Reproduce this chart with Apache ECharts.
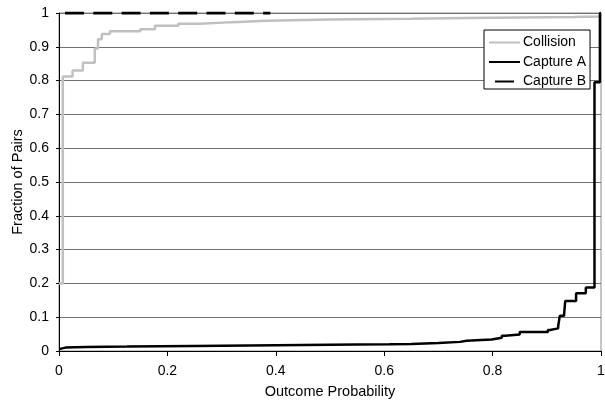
<!DOCTYPE html>
<html>
<head>
<meta charset="utf-8">
<script src="https://cdn.jsdelivr.net/npm/echarts@6/dist/echarts.min.js"></script>
<style>
html,body{margin:0;padding:0;background:#fff;}
#chart{width:605px;height:405px;}
</style>
</head>
<body>
<div id="chart"></div>
<script>
// Data (x = outcome probability, y = fraction of pairs)
const seriesNames = ['Collision', 'Capture A', 'Capture B'];
const xTicks = [0, 0.2, 0.4, 0.6, 0.8, 1];
const yTicks = [0, 0.1, 0.2, 0.3, 0.4, 0.5, 0.6, 0.7, 0.8, 0.9, 1];

const collisionX = [0, 0.007, 0.025, 0.044, 0.066, 0.072, 0.079, 0.094, 0.15, 0.177, 0.22, 0.26, 0.32, 0.383, 0.5, 0.65, 0.75, 0.85, 0.95, 0.998, 1];
const collisionY = [0.2, 0.812, 0.83, 0.853, 0.895, 0.922, 0.938, 0.946, 0.952, 0.962, 0.968, 0.973, 0.977, 0.981, 0.983, 0.985, 0.987, 0.988, 0.99, 1, 1];

const captureAX = [0, 0.004, 0.012, 0.05, 0.125, 0.25, 0.4, 0.55, 0.61, 0.65, 0.7, 0.74, 0.752, 0.798, 0.817, 0.823, 0.85, 0.902, 0.906, 0.921, 0.924, 0.932, 0.934, 0.954, 0.972, 0.988, 0.998, 1];
const captureAY = [0.007, 0.01, 0.012, 0.013, 0.015, 0.017, 0.019, 0.02, 0.021, 0.024, 0.027, 0.03, 0.034, 0.039, 0.045, 0.049, 0.056, 0.062, 0.067, 0.074, 0.104, 0.11, 0.148, 0.171, 0.188, 0.795, 1, 1];

const captureBX = [0, 0.39];
const captureBY = [1, 1];

function pairs(xs, ys) { return xs.map((x, i) => [x, ys[i]]); }

const FONT = 'Liberation Sans, Arial, sans-serif';
const chart = echarts.init(document.getElementById('chart'), null, {renderer: 'canvas'});
chart.setOption({
  animation: false,
  backgroundColor: '#ffffff',
  grid: {
    left: 59, right: 4, top: 13, bottom: 54,
    containLabel: false, outerBoundsMode: 'none',
    show: true, borderColor: '#8c8c8c', borderWidth: 1, backgroundColor: 'transparent'
  },
  legend: {
    orient: 'vertical',
    left: 484, top: 30,
    padding: [5, 4, 0, 4],
    itemWidth: 31, itemHeight: 12, itemGap: 4.5,
    backgroundColor: '#ffffff',
    borderColor: '#000000', borderWidth: 1, borderRadius: 0,
    itemStyle: {color: 'transparent', borderWidth: 0, opacity: 0},
    textStyle: {fontFamily: FONT, fontSize: 14, lineHeight: 15, color: '#000', padding: [0,0,0,-2]},
    data: seriesNames
  },
  xAxis: {
    type: 'value', min: 0, max: 1, interval: 0.2,
    name: 'Outcome Probability', nameLocation: 'middle', nameGap: 33,
    nameMoveOverlap: false,
    nameTextStyle: {fontFamily: FONT, fontSize: 14.5, color: '#000'},
    axisLine: {show: true, onZero: false, lineStyle: {color: '#000', width: 1}},
    axisTick: {show: true, length: 5, inside: false, lineStyle: {color: '#000'}},
    axisLabel: {fontFamily: FONT, fontSize: 14, color: '#000', margin: 13,
      formatter: v => String(+v.toFixed(1))},
    splitLine: {show: false}
  },
  yAxis: {
    type: 'value', min: 0, max: 1, interval: 0.1,
    name: 'Fraction of Pairs', nameLocation: 'middle', nameGap: 34,
    nameMoveOverlap: false,
    nameTextStyle: {fontFamily: FONT, fontSize: 14.5, color: '#000'},
    axisLine: {show: true, lineStyle: {color: '#000', width: 1}},
    axisTick: {show: true, length: 3, lineStyle: {color: '#000'}},
    axisLabel: {fontFamily: FONT, fontSize: 14, color: '#000', margin: 10,
      formatter: v => String(+v.toFixed(1))},
    splitLine: {show: true, lineStyle: {color: '#707070', width: 1}}
  },
  series: [
    {
      name: seriesNames[0], type: 'line', step: 'end', symbol: 'none',
      data: pairs(collisionX, collisionY),
      lineStyle: {color: '#c0c0c0', width: 2.5},
      itemStyle: {color: '#c0c0c0'}, z: 2
    },
    {
      name: seriesNames[1], type: 'line', step: 'end', symbol: 'none',
      data: pairs(captureAX, captureAY),
      lineStyle: {color: '#000000', width: 2.5},
      itemStyle: {color: '#000000'}, z: 3
    },
    {
      name: seriesNames[2], type: 'line', symbol: 'none',
      data: pairs(captureBX, captureBY),
      lineStyle: {color: '#000000', width: 3, type: [19, 9.3], dashOffset: 22.3},
      itemStyle: {color: '#000000'}, z: 4
    }
  ]
});
</script>
</body>
</html>
